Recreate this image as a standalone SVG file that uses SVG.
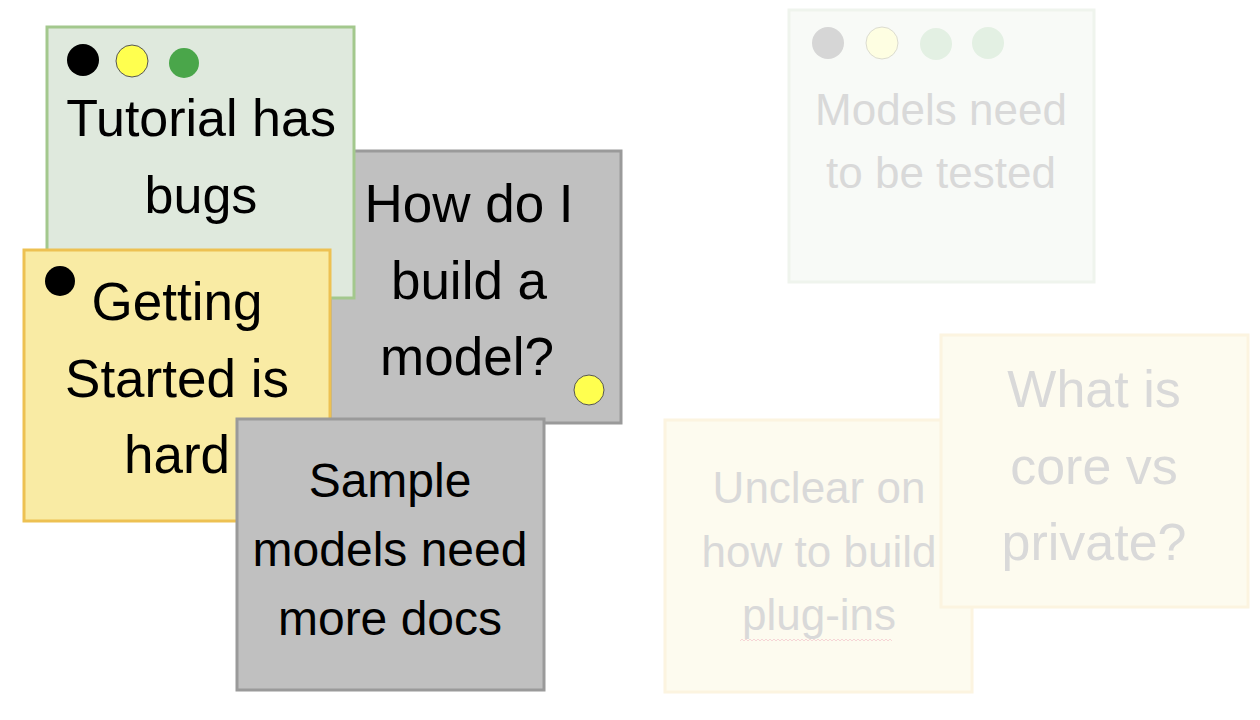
<svg xmlns="http://www.w3.org/2000/svg" width="1260" height="720" viewBox="0 0 1260 720">
<style>
.t{font-family:"Liberation Sans",Arial,sans-serif;text-anchor:middle;fill:#000}
.f{fill:#d9d9d9}
.grey{fill:#c0c0c0;stroke:#9a9a9a;stroke-width:3}
.green{fill:#dfe9dd;stroke:#a3c88d;stroke-width:3}
.yellow{fill:#f9eba4;stroke:#edc152;stroke-width:3}
.fgreen{fill:#f8faf7;stroke:#eff4ed;stroke-width:3}
.fyellow{fill:#fdfbef;stroke:#fcf4e0;stroke-width:3}
</style>
<rect width="1260" height="720" fill="#fff"/>
<g id="note-how">
<rect class="grey" x="330" y="151" width="291" height="272"/>
<text class="t" font-size="53" x="469" y="222">How do I</text>
<text class="t" font-size="53" x="469" y="299">build a</text>
<text class="t" font-size="53" x="467" y="375">model?</text>
<circle cx="589" cy="390" r="15" fill="#ffff4f" stroke="#555" stroke-width="1"/>
</g>
<g id="note-tutorial">
<rect class="green" x="47" y="27" width="307" height="271"/>
<circle cx="83" cy="60" r="16" fill="#000"/>
<circle cx="132" cy="61" r="16" fill="#ffff4f" stroke="#555" stroke-width="1"/>
<circle cx="184" cy="63" r="15" fill="#4aa64a"/>
<text class="t" font-size="52" x="201" y="136">Tutorial has</text>
<text class="t" font-size="52" x="201" y="213">bugs</text>
</g>
<g id="note-getting">
<rect class="yellow" x="24" y="250" width="306" height="271"/>
<circle cx="60" cy="281" r="15" fill="#000"/>
<text class="t" font-size="53" x="177" y="320">Getting</text>
<text class="t" font-size="53" x="177" y="397">Started is</text>
<text class="t" font-size="53" x="177" y="473">hard</text>
</g>
<g id="note-sample">
<rect class="grey" x="237" y="419" width="307" height="271"/>
<text class="t" font-size="48" x="390" y="497">Sample</text>
<text class="t" font-size="48" x="390" y="566">models need</text>
<text class="t" font-size="48" x="390" y="635">more docs</text>
</g>
<g id="note-models">
<rect class="fgreen" x="789" y="10" width="305" height="272"/>
<circle cx="828" cy="43" r="16" fill="#d6d6d6"/>
<circle cx="882" cy="43" r="16" fill="#fefee2" stroke="#dcdcd0" stroke-width="1"/>
<circle cx="936" cy="44" r="16" fill="#e3f0e3"/>
<circle cx="988" cy="43" r="16" fill="#e3f0e3"/>
<text class="t f" font-size="44" x="941" y="125">Models need</text>
<text class="t f" font-size="44" x="941" y="188">to be tested</text>
</g>
<g id="note-unclear">
<rect class="fyellow" x="665" y="420" width="307" height="272"/>
<text class="t f" font-size="44" x="819" y="503">Unclear on</text>
<text class="t f" font-size="44" x="819" y="567">how to build</text>
<text class="t f" font-size="44" x="819" y="630">plug-ins</text>
<path d="M740 641 l2 -2 l2 2 l2 -2 l2 2 l2 -2 l2 2 l2 -2 l2 2 l2 -2 l2 2 l2 -2 l2 2 l2 -2 l2 2 l2 -2 l2 2 l2 -2 l2 2 l2 -2 l2 2 l2 -2 l2 2 l2 -2 l2 2 l2 -2 l2 2 l2 -2 l2 2 l2 -2 l2 2 l2 -2 l2 2 l2 -2 l2 2 l2 -2 l2 2 l2 -2 l2 2 l2 -2 l2 2 l2 -2 l2 2 l2 -2 l2 2 l2 -2 l2 2 l2 -2 l2 2 l2 -2 l2 2 l2 -2 l2 2 l2 -2 l2 2 l2 -2 l2 2 l2 -2 l2 2 l2 -2 l2 2 l2 -2 l2 2 l2 -2 l2 2 l2 -2 l2 2 l2 -2 l2 2 l2 -2 l2 2 l2 -2 l2 2 l2 -2 l2 2 l2 -2 l2 2" fill="none" stroke="#f6d6d6" stroke-width="1"/>
</g>
<g id="note-core">
<rect class="fyellow" x="941" y="335" width="307" height="272"/>
<text class="t f" font-size="52" x="1094" y="407">What is</text>
<text class="t f" font-size="52" x="1094" y="484">core vs</text>
<text class="t f" font-size="52" x="1094" y="560">private?</text>
</g>
<g id="connectors"/>
</svg>
